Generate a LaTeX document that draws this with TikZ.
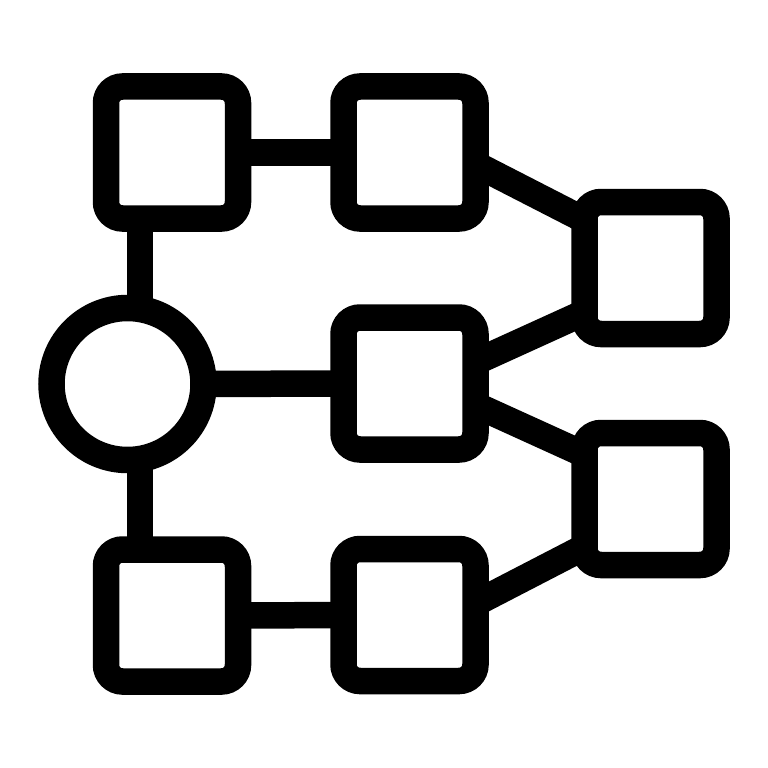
\documentclass[tikz,border=0pt]{standalone}
\usepackage{tikz}
\definecolor{icon_black}{RGB}{0,0,0}

\begin{document}
\begin{tikzpicture}[line width=0.53cm]
    \tikzstyle{box}=[draw=icon_black, rectangle, rounded corners=0.33cm, minimum size=2.64cm, inner sep=0pt, outer sep=0pt, fill=none]
    \tikzstyle{hub}=[draw=icon_black, circle, minimum size=3.04cm, inner sep=0pt, outer sep=0pt, fill=none]
    \tikzstyle{link}=[draw=icon_black, line width=0.53cm]

    \fill[white] (0,0) rectangle (15.36,-15.36);
    \useasboundingbox (0,0) rectangle (15.36,-15.36);

    \node[hub] (hub) at (2.55,-7.68)  {};
    \node[box] (tl)  at (3.44,-3.05)  {};
    \node[box] (tm)  at (8.19,-3.05)  {};
    \node[box] (mm)  at (8.19,-7.67)  {};
    \node[box] (bl)  at (3.44,-12.31) {};
    \node[box] (bm)  at (8.19,-12.30) {};
    \node[box] (rt)  at (13.01,-5.36) {};
    \node[box] (rb)  at (13.01,-9.98) {};

    \coordinate (stemtop) at ([xshift=-0.64cm]tl.south);
    \coordinate (stembot) at ([xshift=-0.64cm]bl.north);
    \path
     (tl) edge[link] (tm)
     (hub) edge[link] (mm)
     (bl) edge[link] (bm)
     (stemtop) edge[link] (stemtop |- hub.north)
     (stembot) edge[link] (stembot |- hub.south)
     (tm.-10) edge[link] (rt.144)
     (mm.18) edge[link] (rt.-146)
     (mm.-18) edge[link] (rb.146)
     (bm.10) edge[link] (rb.-144)
     ;
\end{tikzpicture}
\end{document}
